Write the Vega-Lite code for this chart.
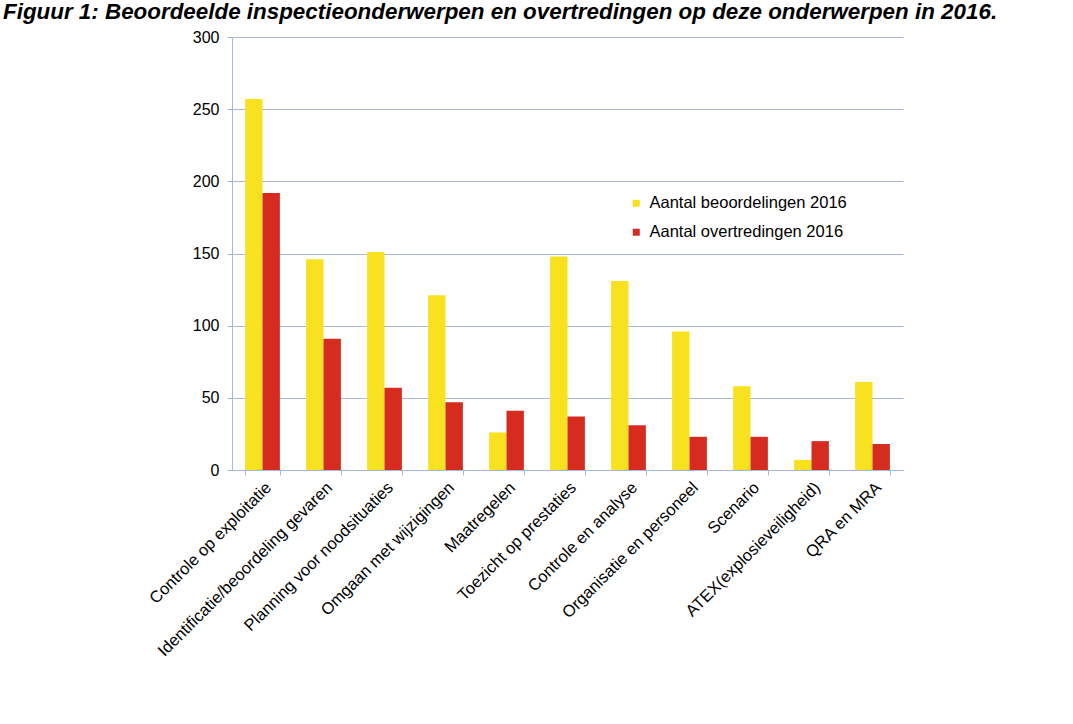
{
  "$schema": "https://vega.github.io/schema/vega-lite/v6.json",
  "autosize": "none",
  "width": 671,
  "height": 433,
  "padding": {"left": 232, "top": 37, "right": 170, "bottom": 254},
  "background": "#ffffff",
  "title": {
    "text": "Figuur 1: Beoordeelde inspectieonderwerpen en overtredingen op deze onderwerpen in 2016.",
    "anchor": "start",
    "frame": "group",
    "orient": "top",
    "baseline": "alphabetic",
    "offset": 0,
    "dx": -229,
    "dy": 12,
    "font": "Liberation Sans",
    "fontSize": 22.4,
    "fontStyle": "italic",
    "fontWeight": "bold",
    "color": "#000000",
    "limit": 0
  },
  "data": {
    "values": [
      {"onderwerp": "Controle op exploitatie", "reeks": "Aantal beoordelingen 2016", "aantal": 257},
      {"onderwerp": "Controle op exploitatie", "reeks": "Aantal overtredingen 2016", "aantal": 192},
      {"onderwerp": "Identificatie/beoordeling gevaren", "reeks": "Aantal beoordelingen 2016", "aantal": 146},
      {"onderwerp": "Identificatie/beoordeling gevaren", "reeks": "Aantal overtredingen 2016", "aantal": 91},
      {"onderwerp": "Planning voor noodsituaties", "reeks": "Aantal beoordelingen 2016", "aantal": 151},
      {"onderwerp": "Planning voor noodsituaties", "reeks": "Aantal overtredingen 2016", "aantal": 57},
      {"onderwerp": "Omgaan met wijzigingen", "reeks": "Aantal beoordelingen 2016", "aantal": 121},
      {"onderwerp": "Omgaan met wijzigingen", "reeks": "Aantal overtredingen 2016", "aantal": 47},
      {"onderwerp": "Maatregelen", "reeks": "Aantal beoordelingen 2016", "aantal": 26},
      {"onderwerp": "Maatregelen", "reeks": "Aantal overtredingen 2016", "aantal": 41},
      {"onderwerp": "Toezicht op prestaties", "reeks": "Aantal beoordelingen 2016", "aantal": 148},
      {"onderwerp": "Toezicht op prestaties", "reeks": "Aantal overtredingen 2016", "aantal": 37},
      {"onderwerp": "Controle en analyse", "reeks": "Aantal beoordelingen 2016", "aantal": 131},
      {"onderwerp": "Controle en analyse", "reeks": "Aantal overtredingen 2016", "aantal": 31},
      {"onderwerp": "Organisatie en personeel", "reeks": "Aantal beoordelingen 2016", "aantal": 96},
      {"onderwerp": "Organisatie en personeel", "reeks": "Aantal overtredingen 2016", "aantal": 23},
      {"onderwerp": "Scenario", "reeks": "Aantal beoordelingen 2016", "aantal": 58},
      {"onderwerp": "Scenario", "reeks": "Aantal overtredingen 2016", "aantal": 23},
      {"onderwerp": "ATEX(explosieveiligheid)", "reeks": "Aantal beoordelingen 2016", "aantal": 7},
      {"onderwerp": "ATEX(explosieveiligheid)", "reeks": "Aantal overtredingen 2016", "aantal": 20},
      {"onderwerp": "QRA en MRA", "reeks": "Aantal beoordelingen 2016", "aantal": 61},
      {"onderwerp": "QRA en MRA", "reeks": "Aantal overtredingen 2016", "aantal": 18}
    ]
  },
  "mark": {"type": "bar"},
  "encoding": {
    "x": {
      "field": "onderwerp",
      "type": "nominal",
      "sort": null,
      "scale": {"paddingInner": 0.43, "paddingOuter": 0.215},
      "axis": {
        "title": null,
        "labelAngle": -45,
        "labelFont": "Liberation Sans",
        "labelFontSize": 16.5,
        "labelColor": "#000000",
        "labelLimit": 0,
        "tickBand": "extent",
        "tickSize": 5,
        "tickColor": "#a7b9da",
        "domainColor": "#a7b9da",
        "labelPadding": 4
      }
    },
    "xOffset": {
      "field": "reeks",
      "type": "nominal",
      "scale": {"paddingInner": 0, "paddingOuter": 0}
    },
    "y": {
      "field": "aantal",
      "type": "quantitative",
      "scale": {"domain": [0, 300], "nice": false},
      "axis": {
        "title": null,
        "values": [0, 50, 100, 150, 200, 250, 300],
        "grid": true,
        "gridColor": "#a7b9da",
        "domainColor": "#a7b9da",
        "tickColor": "#a7b9da",
        "tickSize": 5,
        "labelPadding": 8,
        "labelFont": "Liberation Sans",
        "labelFontSize": 16,
        "labelColor": "#000000"
      }
    },
    "color": {
      "field": "reeks",
      "type": "nominal",
      "scale": {
        "domain": ["Aantal beoordelingen 2016", "Aantal overtredingen 2016"],
        "range": ["#f8e11f", "#d62c20"]
      },
      "legend": {
        "title": null,
        "orient": "none",
        "legendX": 396,
        "legendY": 158,
        "padding": 0,
        "symbolType": "square",
        "symbolSize": 49,
        "symbolStrokeWidth": 0,
        "labelFont": "Liberation Sans",
        "labelFontSize": 16.5,
        "labelColor": "#000000",
        "labelLimit": 0,
        "labelOffset": 5,
        "rowPadding": 12
      }
    }
  },
  "config": {
    "view": {"stroke": null},
    "axis": {"domainWidth": 1, "gridWidth": 1, "tickWidth": 1}
  }
}
